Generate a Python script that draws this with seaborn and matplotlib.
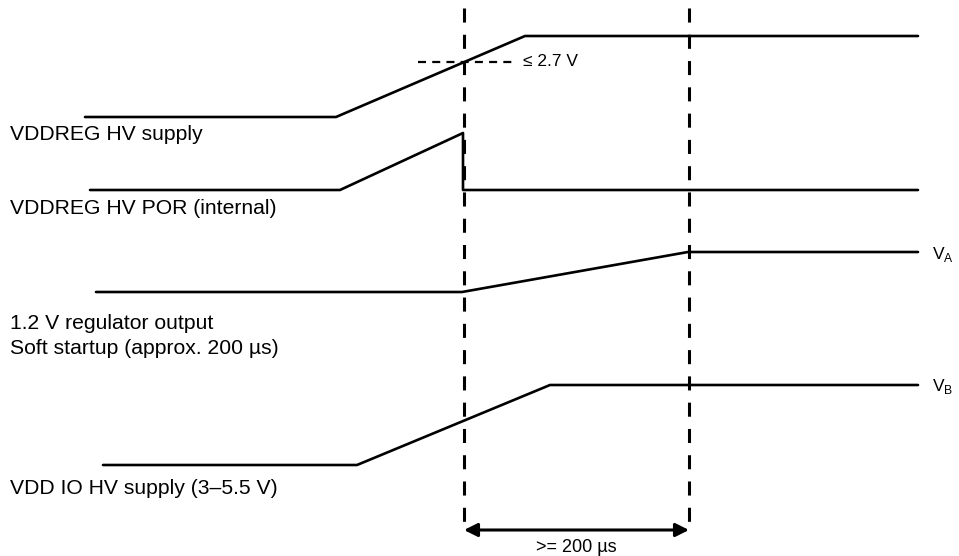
import matplotlib
matplotlib.use("Agg")
import matplotlib.pyplot as plt
import seaborn as sns
import pandas as pd

# waveform corner points in pixel units (y grows downward)
supply_x = [85, 336, 525, 918]
supply_y = [117, 117, 36, 36]
por_x = [90, 340, 463, 463, 918]
por_y = [190, 190, 133, 190, 190]
reg_x = [96, 462, 688, 918]
reg_y = [292, 292, 252, 252]
io_x = [103, 357, 550, 918]
io_y = [465, 465, 385, 385]

signal_labels = [
    "VDDREG HV supply",
    "VDDREG HV POR (internal)",
    "1.2 V regulator output",
    "Soft startup (approx. 200 \u00b5s)",
    "VDD IO HV supply (3\u20135.5 V)",
]
label_base = [140, 214, 329, 354, 494]
marker_x = [464, 689]
threshold_text = "\u2264 2.7 V"
span_text = ">= 200 \u00b5s"

sns.set_theme(style="white")
plt.rcParams["font.family"] = ["Liberation Sans", "DejaVu Sans"]
plt.rcParams["text.color"] = "black"
plt.rcParams["mathtext.fontset"] = "custom"
plt.rcParams["mathtext.rm"] = "Liberation Sans"

frames = []
for name, xs, ys in [("supply", supply_x, supply_y), ("por", por_x, por_y),
                     ("reg", reg_x, reg_y), ("io", io_x, io_y)]:
    frames.append(pd.DataFrame({"x": xs, "y": ys, "sig": name}))
df = pd.concat(frames, ignore_index=True)

fig = plt.figure(figsize=(9.59, 5.56), dpi=100)
ax = fig.add_axes([0, 0, 1, 1])

sns.lineplot(data=df, x="x", y="y", units="sig", estimator=None, sort=False,
             color="black", linewidth=1.9, ax=ax, legend=False)

# dashed timing markers
for mx in marker_x:
    ax.plot([mx, mx], [8, 532], color="black", lw=2.2, dashes=(4.6, 4.0))
ax.plot([418, 515], [62, 62], color="black", lw=1.6, dashes=(3.6, 2.8))
ax.text(523, 61, threshold_text, fontsize=12.5, va="center", ha="left", color="black")

ax.text(932, 254, "V$_\\mathregular{A}$", fontsize=12.5, va="center", ha="left", color="black")
ax.text(932, 387, "V$_\\mathregular{B}$", fontsize=12.5, va="center", ha="left", color="black")

for lab, ly in zip(signal_labels, label_base):
    ax.text(10, ly, lab, fontsize=15.2, va="baseline", ha="left", color="black")

# span arrow
ax.annotate("", xy=(marker_x[0], 530), xytext=(marker_x[1], 530),
            arrowprops=dict(arrowstyle="<|-|>", color="black", lw=2.2,
                            mutation_scale=20, shrinkA=0, shrinkB=0))
ax.text(sum(marker_x) / 2, 548, span_text, fontsize=13, ha="center", va="center", color="black")

ax.set_xlim(0, 959)
ax.set_ylim(556, 0)
ax.axis("off")

fig.savefig("out.png", dpi=100)
